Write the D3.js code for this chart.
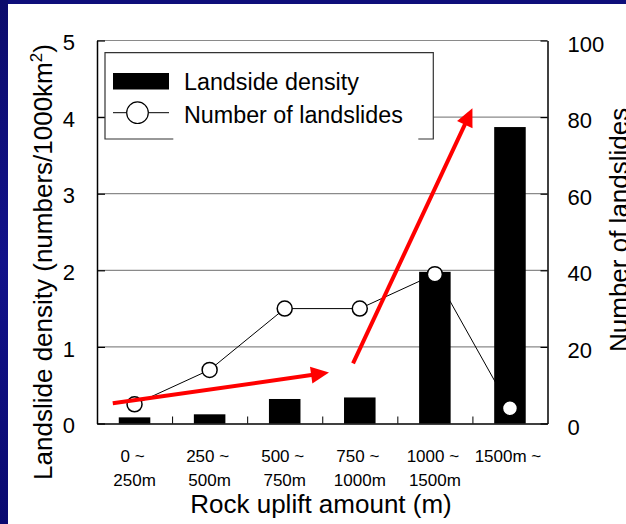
<!DOCTYPE html>
<html><head><meta charset="utf-8">
<script src="https://cdn.jsdelivr.net/npm/d3@7/dist/d3.min.js"></script>
<style>html,body{margin:0;padding:0;background:#fff;overflow:hidden}</style>
</head><body>
<svg id="c" width="626" height="524" xmlns="http://www.w3.org/2000/svg"></svg>
<script>
// ---- data ----
const categories = ["0-250", "250-500", "500-750", "750-1000", "1000-1500", "1500-"];
const labelLine1 = ["0 ~", "250 ~", "500 ~", "750 ~", "1000 ~", "1500m ~"];
const labelLine2 = ["250m", "500m", "750m", "1000m", "1500m", ""];
const landslideDensity = [0.08, 0.12, 0.32, 0.34, 1.98, 3.87];
const landslideCount = [5, 14, 30, 30, 39, 4];
const leftTicks = [0, 1, 2, 3, 4, 5];
const rightTicks = [0, 20, 40, 60, 80, 100];
// annotation arrows: x in category units (0..6), y in right-axis units
const arrows = [
  {x1: 0.21, y1: 5.3, x2: 3.09, y2: 13.3},
  {x1: 3.41, y1: 15.7, x2: 5.0, y2: 82.3}
];

const FONT = "'Liberation Sans', Arial, Helvetica, sans-serif";
const svg = d3.select("#c");
const W = 626, H = 524;
const L = 97, R = 547.5, T = 40.5, B = 423.5;

// slide frame
const defs = svg.append("defs");
const g1 = defs.append("linearGradient").attr("id", "blueV").attr("x1", 0).attr("y1", 0).attr("x2", 0).attr("y2", 1);
g1.append("stop").attr("offset", "0%").attr("stop-color", "#0c0c6c");
g1.append("stop").attr("offset", "50%").attr("stop-color", "#12128a");
g1.append("stop").attr("offset", "100%").attr("stop-color", "#0a0a70");
svg.append("rect").attr("x", 0).attr("y", 0).attr("width", W).attr("height", H).attr("fill", "#fff");
svg.append("rect").attr("x", 0).attr("y", 0).attr("width", W).attr("height", 4).attr("fill", "#0e0e7a");
svg.append("rect").attr("x", 0).attr("y", 0).attr("width", 8).attr("height", H).attr("fill", "url(#blueV)");

// scales
const x = d3.scaleBand().domain(categories).range([L, R]).paddingInner(0.58).paddingOuter(0.29);
const xLin = d3.scaleLinear().domain([0, categories.length]).range([L, R]);
const yL = d3.scaleLinear().domain([0, 5]).range([B, T]);
const yR = d3.scaleLinear().domain([0, 100]).range([B, T]);

// gridlines
svg.append("g").selectAll("line").data(leftTicks.filter(d => d > 0)).join("line")
  .attr("x1", L).attr("x2", R).attr("y1", d => yL(d)).attr("y2", d => yL(d))
  .attr("stroke", "#8a8a8a").attr("stroke-width", 1.2);

// bars
svg.append("g").selectAll("rect").data(landslideDensity).join("rect")
  .attr("x", (d, i) => x(categories[i]))
  .attr("y", d => yL(d))
  .attr("width", x.bandwidth())
  .attr("height", d => B - yL(d))
  .attr("fill", "#000");

// left axis
const axL = svg.append("g").attr("transform", `translate(${L},0)`)
  .call(d3.axisLeft(yL).tickValues(leftTicks).tickFormat(d3.format("d")).tickSizeInner(-8).tickSizeOuter(0).tickPadding(22));
axL.select(".domain").attr("stroke", "#000").attr("stroke-width", 1.5);
axL.selectAll(".tick line").attr("stroke", "#000").attr("stroke-width", 1.2);
axL.selectAll("text").attr("font-family", FONT).attr("font-size", 22).attr("fill", "#000").attr("dy", "0.42em");

// right axis
const axR = svg.append("g").attr("transform", `translate(${R},0)`)
  .call(d3.axisRight(yR).tickValues(rightTicks).tickFormat(d3.format("d")).tickSizeInner(-7).tickSizeOuter(0).tickPadding(20));
axR.select(".domain").attr("stroke", "#000").attr("stroke-width", 1.5);
axR.selectAll(".tick line").attr("stroke", "#000").attr("stroke-width", 1.2);
axR.selectAll("text").attr("font-family", FONT).attr("font-size", 22).attr("fill", "#000").attr("dy", "0.48em");

// bottom axis: inward ticks at category boundaries
const axB = svg.append("g").attr("transform", `translate(0,${B})`)
  .call(d3.axisBottom(xLin).tickValues(d3.range(1, categories.length)).tickSizeInner(-7).tickSizeOuter(0).tickFormat(""));
axB.select(".domain").attr("stroke", "#000").attr("stroke-width", 1.5);
axB.selectAll(".tick line").attr("stroke", "#000").attr("stroke-width", 1);

// category labels
const axBL = svg.append("g").attr("transform", `translate(0,${B})`)
  .call(d3.axisBottom(x).tickSize(0).tickFormat(""));
axBL.select(".domain").remove();
axBL.selectAll(".tick text").each(function (d, i) {
  const t = d3.select(this).attr("font-family", FONT).attr("font-size", 17).attr("fill", "#000").attr("y", 0).attr("dy", null);
  t.append("tspan").attr("x", -2).attr("y", 38).text(labelLine1[i]);
  t.append("tspan").attr("x", 0).attr("y", 62).text(labelLine2[i]);
});

// line series (right axis)
const lineGen = d3.line().x((d, i) => x(categories[i]) + x.bandwidth() / 2).y(d => yR(d));
svg.append("path").datum(landslideCount).attr("d", lineGen)
  .attr("fill", "none").attr("stroke", "#000").attr("stroke-width", 1);
svg.append("g").selectAll("circle").data(landslideCount).join("circle")
  .attr("cx", (d, i) => x(categories[i]) + x.bandwidth() / 2)
  .attr("cy", d => yR(d))
  .attr("r", 7.5)
  .attr("fill", "#fff").attr("stroke", "#000").attr("stroke-width", 1.5);

// red annotation arrows
const ag = svg.append("g");
arrows.forEach(a => {
  const sx = xLin(a.x1), sy = yR(a.y1), ex = xLin(a.x2), ey = yR(a.y2);
  const ang = Math.atan2(ey - sy, ex - sx);
  const hl = 18, hw = 8.5;
  const bx = ex - hl * Math.cos(ang), by = ey - hl * Math.sin(ang);
  ag.append("line").attr("x1", sx).attr("y1", sy).attr("x2", bx + 2 * Math.cos(ang)).attr("y2", by + 2 * Math.sin(ang))
    .attr("stroke", "#ff0000").attr("stroke-width", 4);
  const px = -Math.sin(ang), py = Math.cos(ang);
  ag.append("path")
    .attr("d", `M${ex},${ey}L${bx + hw * px},${by + hw * py}L${bx - hw * px},${by - hw * py}Z`)
    .attr("fill", "#ff0000");
});

// legend
const lg = svg.append("g");
const lx0 = 105, ly0 = 52.7, lx1 = 433.3, ly1 = 139;
lg.append("rect").attr("x", lx0).attr("y", ly0).attr("width", lx1 - lx0).attr("height", ly1 - ly0).attr("fill", "#fff");
lg.append("path")
  .attr("d", `M173.3,${ly1}H${lx0}V${ly0}H${lx1}V${ly1}H418.3`)
  .attr("fill", "none").attr("stroke", "#333").attr("stroke-width", 1.2);
lg.append("rect").attr("x", 113).attr("y", 73).attr("width", 56).attr("height", 16.5).attr("fill", "#000");
lg.append("line").attr("x1", 113).attr("x2", 169).attr("y1", 112.7).attr("y2", 112.7).attr("stroke", "#000").attr("stroke-width", 1);
lg.append("circle").attr("cx", 137.5).attr("cy", 112.7).attr("r", 10.8).attr("fill", "#fff").attr("stroke", "#000").attr("stroke-width", 1.2);
lg.append("text").attr("x", 184).attr("y", 89.5).attr("font-family", FONT).attr("font-size", 23.3).text("Landside density");
lg.append("text").attr("x", 184).attr("y", 123.3).attr("font-family", FONT).attr("font-size", 23.3).text("Number of landslides");

// axis titles
svg.append("text").attr("x", 321).attr("y", 513).attr("text-anchor", "middle")
  .attr("font-family", FONT).attr("font-size", 26).text("Rock uplift amount (m)");
const lt = svg.append("text").attr("transform", "translate(52,262) rotate(-90)").attr("text-anchor", "middle")
  .attr("font-family", FONT).attr("font-size", 26);
lt.append("tspan").text("Landslide density (numbers/1000km");
lt.append("tspan").attr("font-size", 17).attr("dy", -10).text("2");
lt.append("tspan").attr("dy", 10).text(")");
svg.append("text").attr("transform", "translate(627.6,352) rotate(-90)").attr("text-anchor", "start")
  .attr("font-family", FONT).attr("font-size", 26).text("Number of landslides");
</script>
</body></html>
